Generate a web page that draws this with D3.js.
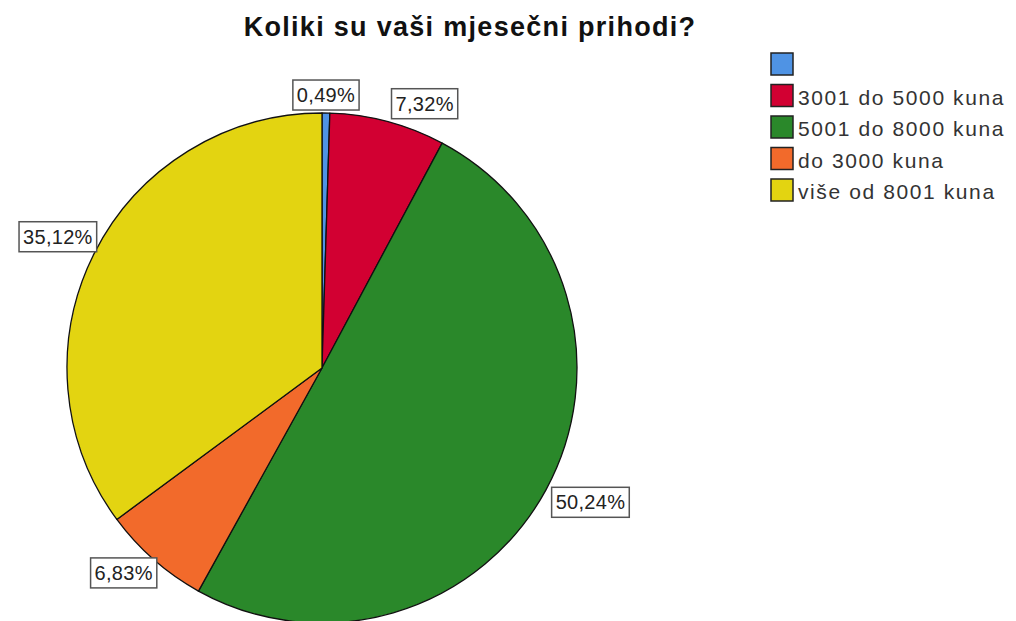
<!DOCTYPE html>
<html>
<head>
<meta charset="utf-8">
<script src="https://cdn.jsdelivr.net/npm/d3@7"></script>
<style>
  html, body { margin: 0; padding: 0; background: #fff; }
  svg { display: block; }
</style>
</head>
<body>
<svg id="chart" width="1016" height="621"></svg>
<script>
const title = "Koliki su vaši mjesečni prihodi?";
const categories = ["", "3001 do 5000 kuna", "5001 do 8000 kuna", "do 3000 kuna", "više od 8001 kuna"];
const values = [0.49, 7.32, 50.24, 6.83, 35.12];
const labels = ["0,49%", "7,32%", "50,24%", "6,83%", "35,12%"];
const colors = ["#4f93e4", "#d20032", "#2a882a", "#f26a2b", "#e3d411"];

const svg = d3.select("#chart");
const font = "'Liberation Sans', Arial, sans-serif";

svg.append("text")
  .attr("x", 470).attr("y", 36)
  .attr("text-anchor", "middle")
  .attr("font-family", font)
  .attr("font-weight", "bold")
  .attr("font-size", 27)
  .attr("letter-spacing", 1.3)
  .attr("fill", "#111")
  .text(title);

const cx = 322, cy = 368, r = 255;
const pie = d3.pie().sort(null).value(d => d)(values);
const arc = d3.arc().innerRadius(0).outerRadius(r);

const g = svg.append("g").attr("transform", `translate(${cx},${cy})`);
g.selectAll("path").data(pie).join("path")
  .attr("d", arc)
  .attr("fill", (d, i) => colors[i])
  .attr("stroke", "#111")
  .attr("stroke-width", 1.3)
  .attr("stroke-linejoin", "round");

// labels
const lg = svg.append("g");
pie.forEach((d, i) => {
  const a = (d.startAngle + d.endAngle) / 2;
  const s = Math.sin(a), c = Math.cos(a);
  const px = cx + (r + 3) * s, py = cy - (r + 3) * c;
  const t = lg.append("text")
    .attr("font-family", font)
    .attr("font-size", 20)
    .attr("letter-spacing", 0.3)
    .attr("fill", "#222")
    .text(labels[i]);
  const bb = t.node().getBBox();
  const w = bb.width + 8, h = 30;
  let x0;
  if (s > 0.1) x0 = px; else if (s < -0.1) x0 = px - w; else x0 = px - w / 2;
  let y0 = c > 0 ? py - h : py - 4;
  if (s > 0.1) x0 += 3; else if (s < -0.1) x0 += 5;
  lg.insert("rect", "text")
    .attr("x", x0).attr("y", y0).attr("width", w).attr("height", h)
    .attr("fill", "#fff").attr("stroke", "#555").attr("stroke-width", 1.5);
  t.attr("x", x0 + 4).attr("y", y0 + h / 2 + 7);
});

// legend
const leg = svg.append("g").attr("transform", "translate(771,53)");
categories.forEach((cat, i) => {
  const row = leg.append("g").attr("transform", `translate(0,${i * 31.5})`);
  row.append("rect").attr("x", 0).attr("y", 0).attr("width", 22).attr("height", 22)
    .attr("fill", colors[i]).attr("stroke", "#222").attr("stroke-width", 1.5);
  row.append("text").attr("x", 27).attr("y", 20)
    .attr("font-family", font).attr("font-size", 21).attr("letter-spacing", 1.6).attr("fill", "#333")
    .text(cat);
});
</script>
</body>
</html>
